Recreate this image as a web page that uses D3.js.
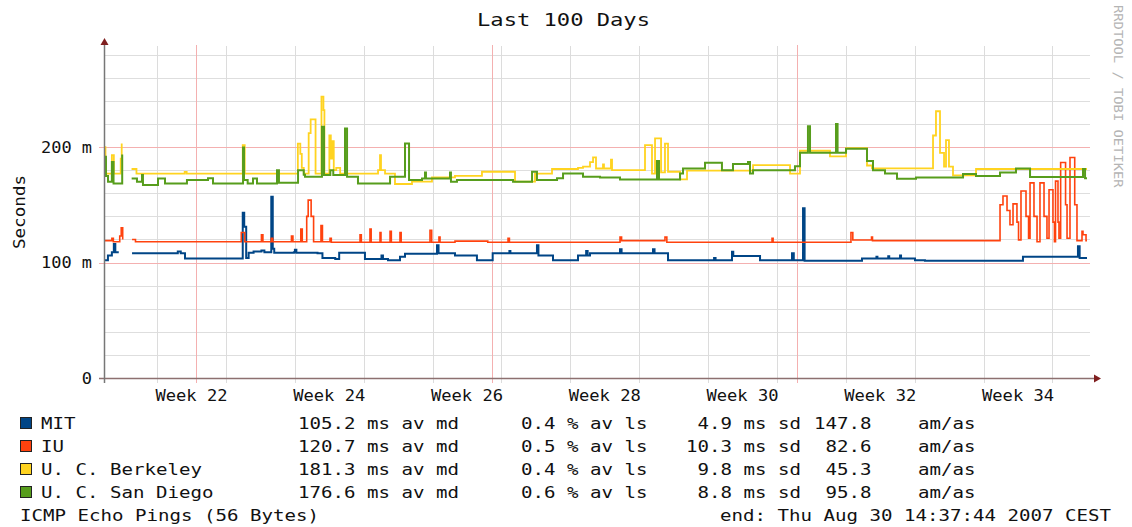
<!DOCTYPE html>
<html>
<head>
<meta charset="utf-8">
<script src="https://cdn.jsdelivr.net/npm/d3@7"></script>
<style>
  html, body { margin: 0; padding: 0; background: #ffffff; }
  svg { display: block; }
  text { font-family: "DejaVu Sans Mono", "Liberation Mono", monospace; fill: #111; }
</style>
</head>
<body>
<svg id="chart" width="1132" height="527"></svg>
<script>
// ---------------- DATA ----------------
const title = "Last 100 Days";
const yAxisTitle = "Seconds";
const endLabel = "end: Thu Aug 30 14:37:44 2007 CEST";
const footLabel = "ICMP Echo Pings (56 Bytes)";
const sideLabel = "RRDTOOL / TOBI OETIKER";
const yTickValues = [0, 100, 200];          // ms
const yTickLabels = ["0", "100 m", "200 m"];
const weekLabels = [22, 24, 26, 28, 30, 32, 34];

const hosts = ["MIT", "IU", "U. C. Berkeley", "U. C. San Diego"];
const colors = ["#004586", "#ff420e", "#ffd320", "#579d1c"];
const medianRtt = [105.2, 120.7, 181.3, 176.6];  // ms av md
const lossPct = [0.4, 0.5, 0.4, 0.6];            // % av ls
const stdDev = [4.9, 10.3, 9.8, 8.8];            // ms sd
const amas = [147.8, 82.6, 45.3, 95.8];          // am/as

// [day offset from start, median RTT in ms]; null = no data
const mitSeries = [
  [0,102],[0.4,106],[0.8,109],[1.0,116],[1.15,109],[1.4,108],[2.13,null],
  [2.85,108],[7.5,109.5],[7.8,108],[8.23,103.5],[13.95,103.5],[14.1,143],[14.25,131],[14.45,104],
  [14.7,108.5],[15.2,109.5],[16.0,110.5],[16.3,109],[17.0,157],[17.15,112],[17.3,108.5],
  [19.3,109],[19.4,111],[19.55,108.5],[21.7,108],[22.2,104],[23.5,103],[23.9,108.5],
  [26.52,103],[28.2,106],[28.35,103],[28.86,102],[30.08,105],[30.59,107.6],[33.7,107.6],
  [33.84,115],[34.0,108],[35.67,106],[37.9,102],[39.5,108],[41.2,110],[41.3,108],[44.0,115],
  [44.15,106],[45.63,102],[48.17,106],[49.0,110],[49.15,106],[49.39,108],[52.44,111.4],
  [52.6,108],[55.79,111.4],[55.95,108],[57.32,102],[62.0,104],[62.15,102],[63.82,109.4],
  [63.95,105.6],[66.67,102],[69.92,108],[70.1,102],[71.04,147],[71.2,101.5],[77.03,103.5],
  [78.5,105],[78.6,103.5],[79.7,105.5],[79.8,103.5],[80.9,106],[81.0,103.5],[82.42,102],
  [83.43,101.5],[93.39,105],[98.98,114],[99.15,104],[99.9,104]
];
const iuSeries = [
  [0,119],[0.8,121],[0.95,118],[1.6,123],[1.75,130],[1.9,120],[2.13,null],
  [2.85,120],[3.2,118],[13.95,126],[14.3,118],[16.0,124],[16.15,118],[17.0,121],[17.15,118],
  [19.05,123],[19.2,118],[20.0,129],[20.15,118],[20.6,140],[20.75,154],[21.05,140],[21.3,118],
  [22.05,132],[22.2,118],[22.97,121],[23.1,117.5],[26.02,124],[26.15,117.5],[27.03,129],
  [27.15,117.5],[28.05,126],[28.15,117.5],[29.07,127],[29.2,117.5],[30.08,126],[30.2,117.5],
  [33.13,128],[33.3,117.5],[34.04,122],[34.15,117.5],[35.67,118.5],[39.0,117.5],[41.06,121],
  [41.2,117.5],[52.44,122],[52.6,119],[57.01,122],[57.2,117.5],[67.89,121],[68.0,117.5],
  [75.91,126],[76.1,119.5],[78.0,122],[78.1,119],[90.75,119],
  [91.06,150],[91.36,157.6],[91.77,145],[92.07,132.7],[92.38,150.8],[92.78,135],[92.94,119.6],
  [93.19,162],[93.7,140],[93.96,121],[94.11,169],[94.51,140],[94.82,118],[95.12,169],
  [95.53,140],[95.83,121],[96.04,163],[96.44,135],[96.59,118],[96.7,170.5],[96.95,135],
  [97.05,121],[97.22,186.6],[97.72,150],[97.87,121],[98.17,191],[98.65,150],[98.88,119],
  [99.39,127],[99.49,124],[99.8,119],[99.9,119]
];
const berkeleySeries = [
  [0,200],[0.15,177],[0.8,193],[1.0,177],[1.7,190],[1.8,203],[2.13,null],
  [2.8,181],[3.3,177],[8.2,178.5],[8.4,177],[14.0,177],[14.1,201.7],[14.3,177],[19.6,177],
  [19.7,203],[19.95,194],[20.1,182],[20.3,177],[20.8,212],[21.0,224],[21.5,177],[22.1,243.6],
  [22.3,232],[22.4,177],[22.9,210],[23.05,190],[23.2,205],[23.35,180],[23.6,182],[24.0,177],
  [26.52,177],[27.85,180],[28.05,193],[28.15,180],[28.56,177],[29.57,168],[31.3,170],
  [33.33,173.7],[35.67,175],[38.41,178.6],[41.77,170],[43.8,177],[45.53,181],[48.17,182],
  [48.68,183],[49.39,187],[49.7,191],[50.0,181.4],[50.71,185],[50.81,181.4],[51.52,189],
  [51.63,180],[54.98,201.7],[55.69,177],[56.0,207.5],[56.61,178],[57.01,203],[57.32,178.6],
  [58.54,172],[59.25,179.5],[65.96,184.4],[69.72,177],[70.73,196.8],[73.78,192],[75.41,199],
  [77.54,184],[78.05,181.6],[84.25,210],[84.55,231],[84.96,195],[85.37,183],[85.57,206],
  [85.87,183],[86.28,175.5],[88.62,181],[99.9,181]
];
const sanDiegoSeries = [
  [0,191.6],[0.2,175],[0.41,170],[0.8,187],[0.97,168.5],[1.85,193.5],[2.13,null],
  [2.81,172.8],[3.35,170],[3.86,175.8],[3.96,167.1],[5.49,172.8],[6.2,168.5],[8.43,171.4],
  [10.57,173],[11.08,168.5],[14.13,199.5],[14.23,171.4],[14.6,168.5],[15.14,172.8],
  [15.55,168.5],[17.58,180],[17.78,169],[19.72,180],[20.3,176],[20.43,174.3],[22.15,217.6],
  [22.36,175.8],[23.0,180],[23.3,175.8],[24.49,216],[24.7,174.3],[25.81,168.5],[29.07,174.3],
  [30.59,203],[31.0,171.4],[32.32,172.8],[32.62,178],[32.72,172.8],[35.16,178],[35.26,170],
  [35.87,171.4],[41.57,170],[43.5,178.6],[44.0,171.4],[46.04,173],[46.65,177],[48.68,174.3],
  [50.41,173.7],[52.44,172],[56.2,188],[56.4,172],[58.54,177],[58.84,181.5],[61.08,186.4],
  [62.8,180],[63.92,185.3],[65.45,187],[65.65,177],[65.96,180],[70.22,183.4],[70.73,195],
  [71.54,218],[71.75,195],[74.39,220],[74.55,195],[75.41,198.6],[77.54,188],[78.15,180],
  [79.37,177],[80.59,172.5],[82.52,173.7],[87.3,176.6],[88.62,175],[91.06,178],[92.68,181.5],
  [94.11,174],[99.49,181],[99.7,173],[99.9,173]
];
const seriesList = [mitSeries, iuSeries, berkeleySeries, sanDiegoSeries];
const seriesWidths = [2, 1.6, 1.8, 2];

// ---------------- LAYOUT ----------------
const startMs = Date.UTC(2007, 4, 22, 14, 37, 44);
const endMs = Date.UTC(2007, 7, 30, 14, 37, 44);
const DAY = 86400000;
const plot = { left: 104, right: 1088, top: 46, bottom: 378, gridRight: 1090 };

const svg = d3.select("#chart");
svg.append("rect").attr("width", 1132).attr("height", 527).attr("fill", "#ffffff");

const x = d3.scaleUtc().domain([new Date(startMs), new Date(endMs)]).range([plot.left, plot.right]);
const y = d3.scaleLinear().domain([0, 287.5]).range([plot.bottom, plot.top]);

// helper for stretched monospace text
function mono(g, str, px, py, size, adv, anchor) {
  return g.append("text")
    .attr("x", px).attr("y", py)
    .attr("font-size", size)
    .attr("text-anchor", anchor || "start")
    .attr("textLength", str.length * adv)
    .attr("lengthAdjust", "spacingAndGlyphs")
    .style("white-space", "pre")
    .text(str);
}

const grid = svg.append("g");
// horizontal minor grid
const minorY = d3.range(20, 281, 20).filter(v => v % 100 !== 0);
grid.selectAll("line.hmin").data(minorY).enter().append("line")
  .attr("x1", plot.left).attr("x2", plot.gridRight)
  .attr("y1", d => Math.round(y(d)) + 0.5).attr("y2", d => Math.round(y(d)) + 0.5)
  .attr("stroke", "#dedede").attr("stroke-width", 1);
// vertical week grid
const mondays = d3.utcMonday.range(new Date(startMs), new Date(endMs));
grid.selectAll("line.vmin").data(mondays).enter().append("line")
  .attr("x1", d => Math.round(x(d)) + 0.5).attr("x2", d => Math.round(x(d)) + 0.5)
  .attr("y1", plot.top).attr("y2", plot.bottom + 5)
  .attr("stroke", "#dcdcdc").attr("stroke-width", 1);
// major horizontal
grid.selectAll("line.hmaj").data([100, 200]).enter().append("line")
  .attr("x1", plot.left - 5).attr("x2", plot.gridRight)
  .attr("y1", d => Math.round(y(d)) + 0.5).attr("y2", d => Math.round(y(d)) + 0.5)
  .attr("stroke", "#f4b0b0").attr("stroke-width", 1);
// month lines
const months = d3.utcMonth.range(new Date(startMs), new Date(endMs));
grid.selectAll("line.vmaj").data(months).enter().append("line")
  .attr("x1", d => Math.round(x(d)) + 0.5).attr("x2", d => Math.round(x(d)) + 0.5)
  .attr("y1", plot.top - 1).attr("y2", plot.bottom + 5)
  .attr("stroke", "#f4b0b0").attr("stroke-width", 1);

// series lines
const toDate = d => new Date(startMs + d * DAY);
const line = d3.line()
  .defined(d => d[1] !== null)
  .x(d => x(toDate(d[0])))
  .y(d => y(d[1]))
  .curve(d3.curveStepAfter);
const lines = svg.append("g");
seriesList.forEach((s, i) => {
  lines.append("path")
    .attr("d", line(s))
    .attr("fill", "none")
    .attr("stroke", colors[i])
    .attr("stroke-width", seriesWidths[i])
    .attr("stroke-linejoin", "miter");
});

// axes
const axisG = svg.append("g");
axisG.append("line").attr("x1", plot.left - 5).attr("x2", 1095)
  .attr("y1", plot.bottom + 0.5).attr("y2", plot.bottom + 0.5)
  .attr("stroke", "#8d7070").attr("stroke-width", 1.5);
axisG.append("line").attr("x1", plot.left + 0.5).attr("x2", plot.left + 0.5)
  .attr("y1", plot.bottom + 5).attr("y2", 44)
  .attr("stroke", "#777777").attr("stroke-width", 1.5);
axisG.append("path").attr("d", `M1094,${plot.bottom - 3.5}L1101,${plot.bottom + 0.5}L1094,${plot.bottom + 4.5}Z`)
  .attr("fill", "#7f1f1f");
axisG.append("path").attr("d", `M${plot.left - 3.5},45L${plot.left + 0.5},38L${plot.left + 4.5},45Z`)
  .attr("fill", "#7f1f1f");

// y tick labels
const tickG = svg.append("g");
yTickValues.forEach((v, i) => {
  mono(tickG, yTickLabels[i], 92, y(v) + 5.5, 15, 10.2, "end");
});
// week labels (centred in the labelled week)
const labelWeeks = mondays.filter(d => weekLabels.includes(+d3.utcFormat("%V")(d)));
labelWeeks.forEach(d => {
  const mid = new Date(+d + 3.5 * DAY);
  mono(tickG, "Week " + d3.utcFormat("%V")(d), x(mid), 401, 15, 10.3, "middle");
});

// y axis title
mono(tickG, yAxisTitle, 0, 0, 15, 10.6, "middle")
  .attr("transform", "translate(25,212) rotate(-90)");

// title
mono(svg, title, 563.5, 26, 18, 13.3, "middle");

// side label
mono(svg, sideLabel, 0, 0, 12.5, 8.3, "start")
  .attr("transform", "translate(1114,5) rotate(90)")
  .style("fill", "#b4b4b4");

// legend
const adv = 11.5;
const leg = svg.append("g");
hosts.forEach((h, i) => {
  const by = 429 + i * 23;
  leg.append("rect").attr("x", 20.5).attr("y", by - 11.5).attr("width", 11).attr("height", 11)
    .attr("fill", colors[i]).attr("stroke", "#222").attr("stroke-width", 1);
  mono(leg, h, 41, by, 16.5, adv);
  mono(leg, `${medianRtt[i].toFixed(1)} ms av md`, 298, by, 16.5, adv);
  mono(leg, `${lossPct[i].toFixed(1)} % av ls`, 521, by, 16.5, adv);
  const sd = stdDev[i].toFixed(1);
  mono(leg, `${sd} ms sd`, 686 + (4 - sd.length) * adv, by, 16.5, adv);
  const am = amas[i].toFixed(1);
  mono(leg, am, 814 + (5 - am.length) * adv, by, 16.5, adv);
  mono(leg, "am/as", 918, by, 16.5, adv);
});
mono(leg, footLabel, 20, 521, 16.5, adv);
mono(leg, endLabel, 720, 521, 16.5, adv);
</script>
</body>
</html>
